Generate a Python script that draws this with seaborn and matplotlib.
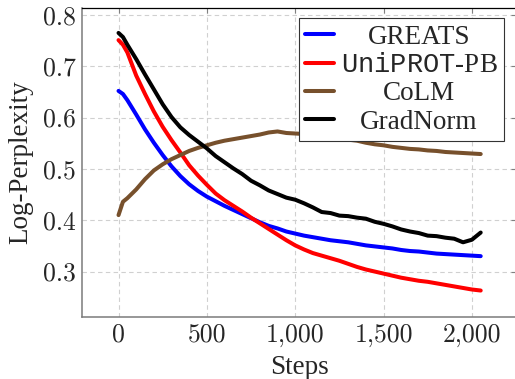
import matplotlib
matplotlib.use("Agg")
import matplotlib.pyplot as plt
from matplotlib.ticker import FuncFormatter, MultipleLocator
import seaborn as sns
import pandas as pd

# data (log-perplexity vs training steps)
steps = [0, 25] + list(range(50, 2001, 50)) + [2050]

greats = [0.652, 0.646, 0.634, 0.606, 0.577, 0.551, 0.527, 0.505, 0.486, 0.470,
          0.457, 0.446, 0.437, 0.428, 0.420, 0.412, 0.404, 0.396, 0.389, 0.384,
          0.378, 0.374, 0.370, 0.367, 0.364, 0.361, 0.359, 0.357, 0.354, 0.351,
          0.349, 0.347, 0.345, 0.342, 0.340, 0.339, 0.337, 0.335, 0.334, 0.333,
          0.332, 0.331, 0.330]
uniprot = [0.751, 0.742, 0.727, 0.682, 0.646, 0.612, 0.582, 0.556, 0.532, 0.507,
           0.487, 0.469, 0.452, 0.439, 0.428, 0.417, 0.405, 0.394, 0.383, 0.372,
           0.361, 0.351, 0.343, 0.336, 0.331, 0.326, 0.321, 0.315, 0.309, 0.304,
           0.300, 0.296, 0.292, 0.288, 0.285, 0.282, 0.280, 0.277, 0.274, 0.271,
           0.268, 0.265, 0.263]
colm = [0.410, 0.436, 0.443, 0.460, 0.480, 0.497, 0.509, 0.519, 0.527, 0.535,
        0.541, 0.546, 0.551, 0.555, 0.558, 0.561, 0.564, 0.567, 0.571, 0.573,
        0.570, 0.569, 0.568, 0.566, 0.565, 0.562, 0.560, 0.557, 0.555, 0.551,
        0.548, 0.546, 0.543, 0.541, 0.539, 0.538, 0.536, 0.535, 0.533, 0.532,
        0.531, 0.530, 0.529]
gradnorm = [0.765, 0.757, 0.742, 0.714, 0.684, 0.655, 0.626, 0.601, 0.581, 0.566,
            0.553, 0.540, 0.525, 0.513, 0.501, 0.490, 0.477, 0.468, 0.458, 0.451,
            0.444, 0.440, 0.433, 0.425, 0.416, 0.414, 0.409, 0.408, 0.405, 0.403,
            0.397, 0.393, 0.388, 0.382, 0.378, 0.375, 0.370, 0.369, 0.366, 0.364,
            0.357, 0.362, 0.376]

methods = ["GREATS", r"$\mathtt{UniPROT}$-PB", "CoLM", "GradNorm"]
colors = ["#0000ff", "#ff0000", "#77502c", "#000000"]

df = pd.DataFrame({"step": steps, methods[0]: greats, methods[1]: uniprot,
                   methods[2]: colm, methods[3]: gradnorm})
long_df = df.melt(id_vars="step", var_name="method", value_name="value")

sns.set_style("white")
plt.rcParams["font.family"] = ["Liberation Serif", "DejaVu Serif"]
plt.rcParams["mathtext.fontset"] = "custom"
plt.rcParams["mathtext.tt"] = "Liberation Mono"
plt.rcParams["mathtext.rm"] = "Liberation Serif"
fs_tick = 18.5
fs = 19.5

fig = plt.figure(figsize=(5.15, 3.79), dpi=100)
ax = fig.add_axes([82.3 / 515, 1 - 316.7 / 379, (516.4 - 82.3) / 515, (316.7 - 8.3) / 379])

sns.lineplot(data=long_df, x="step", y="value", hue="method", hue_order=methods,
             palette=colors, linewidth=2.9, ax=ax, legend=True)

ax.set_xlim(-205, 2252)
ax.set_ylim(0.212, 0.813)
ax.xaxis.set_major_locator(MultipleLocator(500))
ax.yaxis.set_major_locator(MultipleLocator(0.1))
ax.xaxis.set_major_formatter(FuncFormatter(lambda v, p: f"{int(round(v)):,}"))
ax.yaxis.set_major_formatter(FuncFormatter(lambda v, p: f"{v:.1f}"))

ax.grid(True, linestyle=(0, (4, 3)), linewidth=0.8, color="#d0d0d0")
ax.tick_params(direction="in", length=3.5, width=0.8, color="#808080",
               top=True, right=True, labelsize=fs_tick, pad=4.5,
               labelfontfamily="cmr10")
for side in ["left", "bottom"]:
    ax.spines[side].set_color("#7a7a7a")
    ax.spines[side].set_linewidth(1.1)
for side in ["top", "right"]:
    ax.spines[side].set_color("black")
    ax.spines[side].set_linewidth(0.9)

ax.set_xlabel("Steps", fontsize=fs, labelpad=6)
ax.set_ylabel("Log-Perplexity", fontsize=fs)
ax.yaxis.set_label_coords(-0.113, 0.5)

handles, labels = ax.get_legend_handles_labels()
leg = ax.legend(handles, labels, loc="upper right", bbox_to_anchor=(0.972, 0.968),
                borderaxespad=0, fontsize=fs, frameon=True, fancybox=False,
                edgecolor="#333333", framealpha=1, handlelength=1.05,
                handletextpad=0.25, labelspacing=0.12, borderpad=0.25)
leg.get_frame().set_linewidth(0.8)
for ln in leg.get_lines():
    ln.set_linewidth(2.9)

# centre the legend texts like the pgfplots original
fig.canvas.draw()
r = fig.canvas.get_renderer()
ws = [t.get_window_extent(r).width for t in leg.get_texts()]
for t, w in zip(leg.get_texts(), ws):
    t.set_x((max(ws) - w) / 2)

fig.savefig("out.png", dpi=100)
